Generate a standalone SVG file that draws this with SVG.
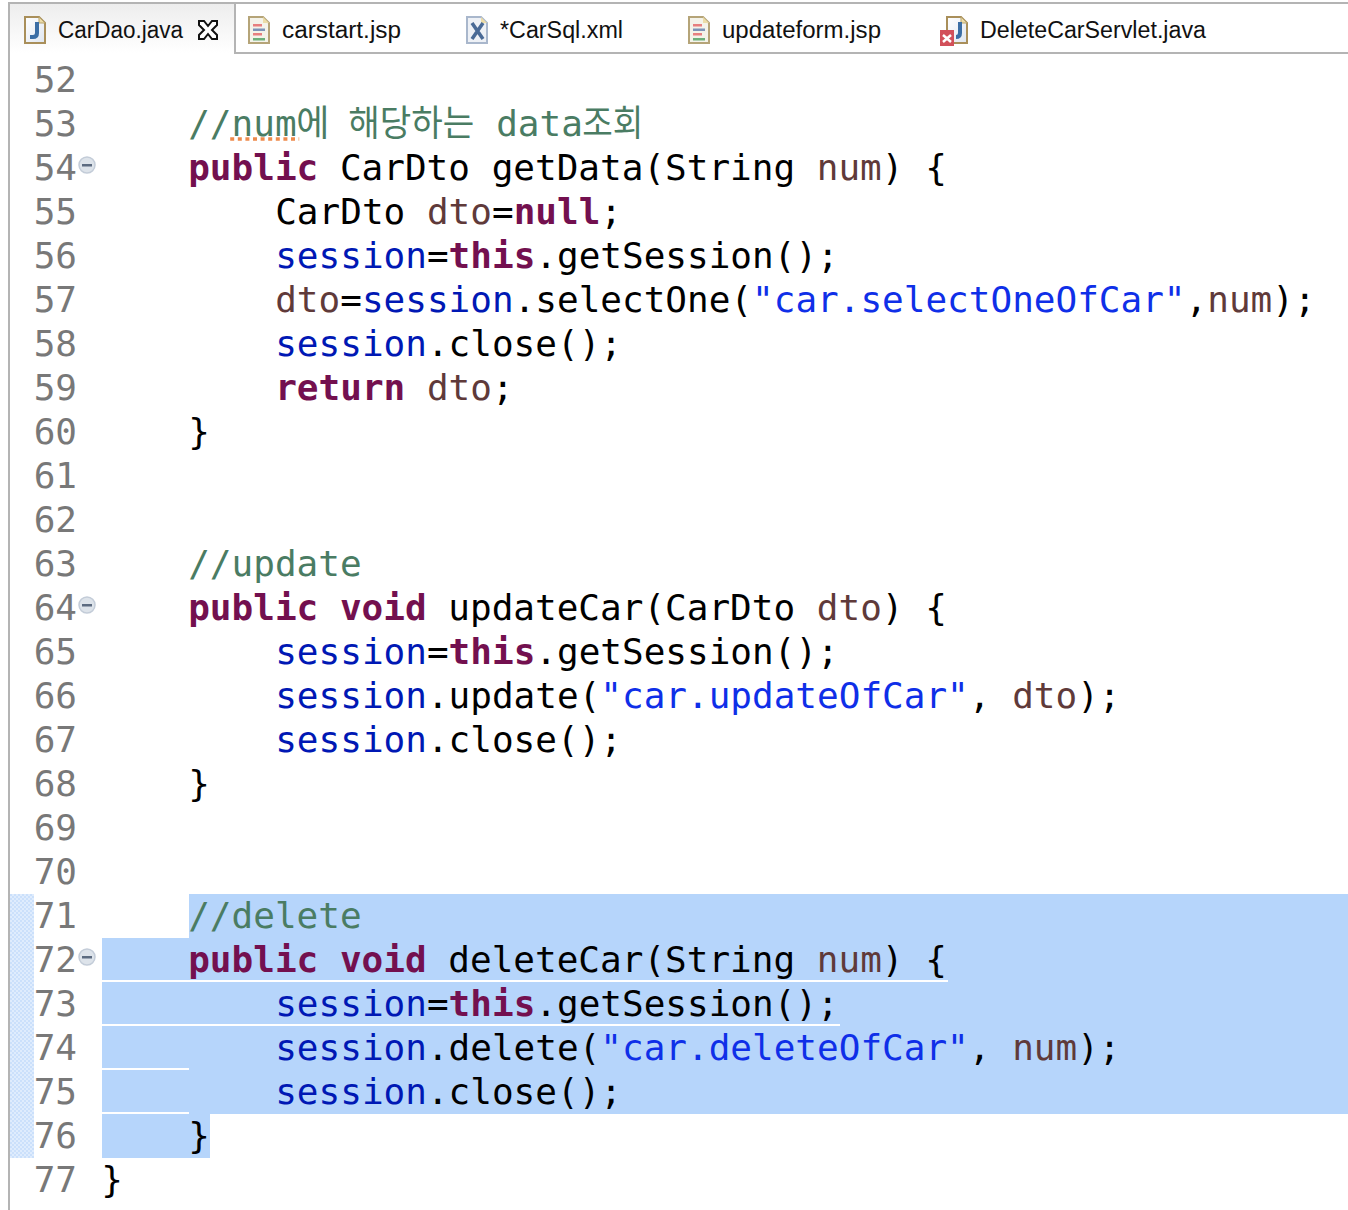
<svg xmlns="http://www.w3.org/2000/svg" width="1348" height="1210" viewBox="0 0 1348 1210">
<style>
text{white-space:pre}
.tab{font:23px "Liberation Sans",Arial,sans-serif;fill:#111}
.c{font:36px "DejaVu Sans Mono","Noto Sans CJK KR",monospace;fill:#000}
.n{fill:#787878;text-anchor:end}
.k{fill:#73104f;font-weight:bold}
.f{fill:#0018b4}
.s{fill:#0f2fe8}
.v{fill:#5f3a3a}
.m{fill:#4a7c63}
.sel{fill:#b6d5fb}
.gap{fill:#fff}
.fold circle{fill:#dde3ea;stroke:#c3ccd8;stroke-width:1.5}
.fold rect{fill:#5c6b80}
</style>
<defs>
<linearGradient id="tabg" x1="0" y1="0" x2="0" y2="1"><stop offset="0" stop-color="#ededed"/><stop offset="1" stop-color="#fff"/></linearGradient>
<linearGradient id="doc" x1="0" y1="0" x2="1" y2="1"><stop offset="0" stop-color="#fff"/><stop offset="1" stop-color="#dfe6f0"/></linearGradient>
<pattern id="hatch" width="4" height="4" patternUnits="userSpaceOnUse"><rect width="4" height="4" fill="#dfecfd"/><rect width="2" height="2" fill="#cbe0fb"/><rect x="2" y="2" width="2" height="2" fill="#cbe0fb"/></pattern>
<g id="jdoc"><path d="M1 1H15L21 7V27H1Z" fill="url(#doc)" stroke="#a98f5a" stroke-width="2"/><path d="M15 1V7H21Z" fill="#ecdca8" stroke="#b9a56f"/></g>
<g id="jspdoc"><path d="M1 1H15L21 7V27H1Z" fill="#f4f3ea" stroke="#b5a478" stroke-width="2"/><path d="M15 1V7H21Z" fill="#ecdca8"/><rect x="5" y="8" width="9" height="2.500" fill="#e77f7f"/><rect x="5" y="12.500" width="12" height="2.500" fill="#7d94b8"/><rect x="5" y="17" width="9" height="2.500" fill="#e77f7f"/><rect x="5" y="22" width="12" height="2.500" fill="#6db07b"/></g>
</defs>
<rect width="1348" height="1210" fill="#fff"/>

<g id="tabbar">
<rect x="9" y="3" width="226" height="50" fill="url(#tabg)"/>
<rect x="8" y="2" width="1340" height="2" fill="#b4b4b4"/>
<rect x="234" y="3" width="2" height="51" fill="#b4b4b4"/>
<rect x="235" y="52" width="1113" height="2" fill="#b4b4b4"/>
<rect x="8" y="2" width="2" height="1208" fill="#b4b4b4"/>
</g>

<g id="tab-cardao">
<use href="#jdoc" x="24" y="16"/>
<path d="M37 22V33Q37 37 33 37H30" fill="none" stroke="#3b6ea5" stroke-width="4"/>
<text class="tab" x="58" y="38" textLength="125" lengthAdjust="spacingAndGlyphs">CarDao.java</text>
<path d="M199 21L204 21L208 26L212 21L217 21L217 25L212 30L217 35L217 39L212 39L208 34L204 39L199 39L199 35L204 30L199 25Z" fill="#fff" stroke="#111" stroke-width="2"/>
</g>
<g id="tab-carstart">
<use href="#jspdoc" x="248" y="16"/>
<text class="tab" x="282" y="38" textLength="119" lengthAdjust="spacingAndGlyphs">carstart.jsp</text>
</g>
<g id="tab-carsql">
<path d="M467 17H481L487 23V43H467Z" fill="#eef1f6" stroke="#a9b7cc" stroke-width="2"/><path d="M481 17V23H487Z" fill="#ecdca8"/>
<path d="M472 23L483 39M483 23L472 39" stroke="#4a6a96" stroke-width="3.500" fill="none"/>
<text class="tab" x="500" y="38" textLength="123" lengthAdjust="spacingAndGlyphs">*CarSql.xml</text>
</g>
<g id="tab-updateform">
<use href="#jspdoc" x="688" y="16"/>
<text class="tab" x="722" y="38" textLength="159" lengthAdjust="spacingAndGlyphs">updateform.jsp</text>
</g>
<g id="tab-deletecar">
<use href="#jdoc" x="946" y="16"/>
<path d="M960 22V33Q960 37 956 37" fill="none" stroke="#3b6ea5" stroke-width="4"/>
<rect x="940" y="30" width="14" height="16" fill="#d2505a"/>
<path d="M943 35L951 42M951 35L943 42" stroke="#fff" stroke-width="2.500"/>
<text class="tab" x="980" y="38" textLength="226" lengthAdjust="spacingAndGlyphs">DeleteCarServlet.java</text>
</g>

<g id="selection">
<rect x="10" y="894" width="24" height="264" fill="url(#hatch)"/>
<rect class="sel" x="189" y="894" width="1159" height="44"/>
<rect class="sel" x="102" y="938" width="1246" height="176"/>
<rect class="sel" x="102" y="1114" width="108" height="44"/>
<rect class="gap" x="102" y="980" width="846" height="2"/>
<rect class="gap" x="102" y="1024" width="738" height="2"/>
<rect class="gap" x="102" y="1068" width="87" height="2"/>
<rect class="gap" x="102" y="1112" width="87" height="2"/>
</g>

<g id="line-numbers" class="c">
<text class="c n" x="77" y="92">52</text>
<text class="c n" x="77" y="136">53</text>
<text class="c n" x="77" y="180">54</text>
<text class="c n" x="77" y="224">55</text>
<text class="c n" x="77" y="268">56</text>
<text class="c n" x="77" y="312">57</text>
<text class="c n" x="77" y="356">58</text>
<text class="c n" x="77" y="400">59</text>
<text class="c n" x="77" y="444">60</text>
<text class="c n" x="77" y="488">61</text>
<text class="c n" x="77" y="532">62</text>
<text class="c n" x="77" y="576">63</text>
<text class="c n" x="77" y="620">64</text>
<text class="c n" x="77" y="664">65</text>
<text class="c n" x="77" y="708">66</text>
<text class="c n" x="77" y="752">67</text>
<text class="c n" x="77" y="796">68</text>
<text class="c n" x="77" y="840">69</text>
<text class="c n" x="77" y="884">70</text>
<text class="c n" x="77" y="928">71</text>
<text class="c n" x="77" y="972">72</text>
<text class="c n" x="77" y="1016">73</text>
<text class="c n" x="77" y="1060">74</text>
<text class="c n" x="77" y="1104">75</text>
<text class="c n" x="77" y="1148">76</text>
<text class="c n" x="77" y="1192">77</text>
<text class="c n" x="77" y="1236">78</text>
</g>

<g id="fold-markers" class="fold">
<g><circle cx="87" cy="165" r="8"/><rect x="82" y="164" width="10" height="2.500"/></g>
<g><circle cx="87" cy="605" r="8"/><rect x="82" y="604" width="10" height="2.500"/></g>
<g><circle cx="87" cy="957" r="8"/><rect x="82" y="956" width="10" height="2.500"/></g>
</g>

<g id="code" transform="translate(-0.8,-0.5)">
<text class="c m" x="189" y="136">//num</text>
<text class="c m" x="297" y="136">에</text>
<text class="c m" x="349" y="136" textLength="126" lengthAdjust="spacingAndGlyphs">해당하는</text>
<text class="c m" x="497" y="136">data</text>
<text class="c m" x="583" y="136" textLength="61" lengthAdjust="spacingAndGlyphs">조회</text>
<path d="M231 139.500H300" stroke="#ee8a4c" stroke-width="3.500" stroke-dasharray="4 3.600" fill="none"/>

<text class="c" x="189" y="180"><tspan class="k">public</tspan> CarDto getData(String <tspan class="v">num</tspan>) {</text>
<text class="c" x="276" y="224">CarDto <tspan class="v">dto</tspan>=<tspan class="k">null</tspan>;</text>
<text class="c" x="276" y="268"><tspan class="f">session</tspan>=<tspan class="k">this</tspan>.getSession();</text>
<text class="c" x="276" y="312"><tspan class="v">dto</tspan>=<tspan class="f">session</tspan>.selectOne(<tspan class="s">"car.selectOneOfCar"</tspan>,<tspan class="v">num</tspan>);</text>
<text class="c" x="276" y="356"><tspan class="f">session</tspan>.close();</text>
<text class="c" x="276" y="400"><tspan class="k">return</tspan> <tspan class="v">dto</tspan>;</text>
<text class="c" x="189" y="444">}</text>

<text class="c m" x="189" y="576">//update</text>
<text class="c" x="189" y="620"><tspan class="k">public</tspan> <tspan class="k">void</tspan> updateCar(CarDto <tspan class="v">dto</tspan>) {</text>
<text class="c" x="276" y="664"><tspan class="f">session</tspan>=<tspan class="k">this</tspan>.getSession();</text>
<text class="c" x="276" y="708"><tspan class="f">session</tspan>.update(<tspan class="s">"car.updateOfCar"</tspan>, <tspan class="v">dto</tspan>);</text>
<text class="c" x="276" y="752"><tspan class="f">session</tspan>.close();</text>
<text class="c" x="189" y="796">}</text>

<text class="c m" x="189" y="928">//delete</text>
<text class="c" x="189" y="972"><tspan class="k">public</tspan> <tspan class="k">void</tspan> deleteCar(String <tspan class="v">num</tspan>) {</text>
<text class="c" x="276" y="1016"><tspan class="f">session</tspan>=<tspan class="k">this</tspan>.getSession();</text>
<text class="c" x="276" y="1060"><tspan class="f">session</tspan>.delete(<tspan class="s">"car.deleteOfCar"</tspan>, <tspan class="v">num</tspan>);</text>
<text class="c" x="276" y="1104"><tspan class="f">session</tspan>.close();</text>
<text class="c" x="189" y="1148">}</text>
<text class="c" x="102" y="1192">}</text>
</g>
</svg>
